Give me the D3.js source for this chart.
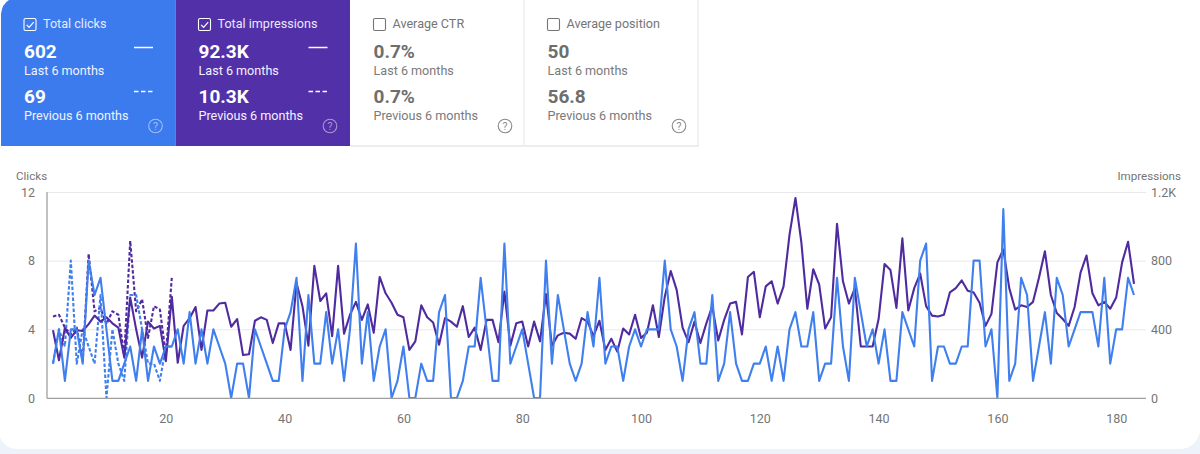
<!DOCTYPE html>
<html><head><meta charset="utf-8">
<script src="https://cdn.jsdelivr.net/npm/d3@7/dist/d3.min.js"></script>
<style>
html,body{margin:0;padding:0;background:#fff;overflow:hidden}
svg{display:block;font-family:Roboto,sans-serif}
</style></head><body><svg id="c" width="1200" height="454"></svg>
<script>
const clicks=[2,4,1,4,4,2,8,6,7,4,1,1,2,3,1,4,1,3,2,3,3,4,2,5,2,4,2,4,3,2,0,2,2,0,4,3,2,1,1,4,5,
7,1,6,2,2,5,2,4,1,4,9,2,5,1,3,4,0,1,3,0,0,2,1,1,5,6,0,0,1,3,3,7,4,1,1,9,2,3,4,2,0,0,8,2,6,4,2,1,2,
5,3,7,2,3,3,1,3,4,3,4,4,4,8,4,3,1,4,5,2,2,6,1,2,5,2,1,1,2,2,3,1,3,1,4,5,3,3,5,1,2,2,7,3,1,7,5,3,
4,2,4,1,1,5,4,3,8,9,1,3,3,2,2,3,3,8,8,3,4,0,11,1,2,7,6,1,3,5,2,7,6,3,4,5,5,5,3,7,2,4,4,7,6];
const impressions=[395,220,408,350,395,390,430,480,445,470,435,410,235,585,400,235,445,405,420,215,590,205,420,465,530,280,510,510,550,555,415,460,250,255,450,470,455,320,435,435,280,
670,535,305,770,565,610,360,770,375,485,560,455,545,380,705,610,555,485,470,280,330,540,470,440,310,465,445,415,535,355,410,280,455,455,325,620,305,435,445,300,445,330,605,305,365,380,375,345,465,
445,360,450,280,345,270,405,370,485,350,380,540,355,590,740,630,410,325,445,320,435,535,335,455,550,560,370,705,735,470,650,680,550,650,950,1165,905,520,750,660,405,470,1015,680,550,640,300,300,
300,460,780,745,525,930,510,640,725,535,480,475,485,615,640,685,625,615,555,420,490,790,865,640,515,540,530,560,700,855,600,495,460,420,530,730,830,610,540,560,520,585,790,910,665];
const prevClicks=[2,4,3,8,2,4,3,2,6,0,4,2,1,6,6,4,2,2,1,3,3];
const prevImpressions=[475,485,410,370,410,215,840,505,525,430,505,485,250,915,505,575,350,535,515,250,700];
const clickTicks=[0,4,8,12];
const impressionTicks=[0,400,800,1200];
const dayTicks=[20,40,60,80,100,120,140,160,180];
const cardTitles=["Total clicks","Total impressions","Average CTR","Average position"];
const lastValues=["602","92.3K","0.7%","50"];
const prevValues=["69","10.3K","0.7%","56.8"];
const cardSelected=[true,true,false,false];

const svg=d3.select("#c");
const BLUE="#3b7bee",PURPLE="#5230a8",LBLUE="#3f7fee",LPURPLE="#4f2ba0",GREY="#757575";
svg.append("rect").attr("width",1200).attr("height",454).attr("fill","#eef2fb");
svg.append("rect").attr("x",-2).attr("y",-30).attr("width",1202).attr("height",479).attr("rx",20).attr("fill","#fff");
svg.append("rect").attr("x",1190).attr("y",-2).attr("width",10).attr("height",400).attr("fill","#fff");

const cw=[174.5,174.5,174,174],cx=[1,175.5,350.5,524.5];
const fills=[BLUE,PURPLE,"#fff","#fff"];
cardTitles.forEach((t,i)=>{
  const g=svg.append("g").attr("transform",`translate(${cx[i]},0)`);
  const sel=cardSelected[i], fg=sel?"#fff":"#6e6e6e", fg2=sel?"#f2f2ff":"#7a7a7a";
  if(i==0) g.append("path").attr("d","M0,14 Q1,4 8,0 H174.5 V146 H0 Z").attr("fill",fills[i]);
  else if(sel) g.append("rect").attr("width",cw[i]).attr("height",146).attr("fill",fills[i]);
  else {
    g.append("path").attr("d",`M${cw[i]-0.5},0 V146`).attr("stroke","#e6e6e6").attr("fill","none");
    g.append("path").attr("d",`M0,146 H${cw[i]}`).attr("stroke","#e6e6e6").attr("stroke-width",1.5).attr("fill","none");
  }
  const bx=23;
  g.append("rect").attr("x",bx).attr("y",18.5).attr("width",12).attr("height",12).attr("rx",1.5)
    .attr("fill","none").attr("stroke",sel?"#fff":"#757575").attr("stroke-width",1.1);
  if(sel) g.append("path").attr("d",`M${bx+2.6},24.8 l2.5,2.5 l4.6,-5.2`).attr("fill","none").attr("stroke","#fff").attr("stroke-width",1.2);
  g.append("text").attr("x",42).attr("y",28).attr("font-size",12.6).attr("fill",sel?"#e8e8ff":"#757575").text(t);
  const lx=23;
  g.append("text").attr("x",lx).attr("y",58).attr("font-size",19).attr("font-weight",700).attr("fill",fg).text(lastValues[i]);
  g.append("text").attr("x",lx).attr("y",75).attr("font-size",12.6).attr("fill",fg2).text("Last 6 months");
  g.append("text").attr("x",lx).attr("y",103).attr("font-size",19).attr("font-weight",700).attr("fill",fg).text(prevValues[i]);
  g.append("text").attr("x",lx).attr("y",119.5).attr("font-size",12.6).attr("fill",fg2).text("Previous 6 months");
  if(sel){
    g.append("path").attr("d","M133,47.5 H152").attr("stroke","#fff").attr("stroke-width",1.5);
    g.append("path").attr("d","M133,91.5 H152").attr("stroke","#fff").attr("stroke-width",1.5).attr("stroke-dasharray","4.5 2.5");
  }
  const qc=sel?"rgba(255,255,255,.5)":"#8a8a8a";
  g.append("circle").attr("cx",154.5).attr("cy",126).attr("r",6.8).attr("fill","none").attr("stroke",qc).attr("stroke-width",1.1);
  g.append("text").attr("x",154.5).attr("y",130).attr("font-size",10.5).attr("text-anchor","middle").attr("fill",qc).text("?");
});

const x=d3.scaleLinear().domain([1,183]).range([53,1134]);
const yL=d3.scaleLinear().domain([0,12]).range([398,192]);
const yR=d3.scaleLinear().domain([0,1200]).range([398,192]);
const L=47,R=1146;

const gridG=svg.append("g");
gridG.selectAll("line").data(clickTicks.slice(1)).join("line")
  .attr("x1",L).attr("x2",R).attr("y1",d=>yL(d)+.5).attr("y2",d=>yL(d)+.5).attr("stroke","#e8e8e8");

const axL=svg.append("g").attr("transform",`translate(${L},0)`)
  .call(d3.axisLeft(yL).tickValues(clickTicks).tickSize(0).tickPadding(12));
const axR=svg.append("g").attr("transform",`translate(${R},0)`)
  .call(d3.axisRight(yR).tickValues(impressionTicks).tickSize(0).tickPadding(5)
    .tickFormat(d=>d>=1000?(d/1000)+"K":d));
const axB=svg.append("g").attr("transform",`translate(0,398)`)
  .call(d3.axisBottom(x).tickValues(dayTicks).tickSize(0).tickPadding(16));
[axL,axR,axB].forEach(a=>{a.select(".domain").remove();
  a.selectAll("text").attr("font-family","Roboto,sans-serif").attr("font-size",12.5).attr("fill",GREY);});

svg.append("line").attr("x1",L).attr("x2",L).attr("y1",192).attr("y2",398.5).attr("stroke","#adadad").attr("stroke-width",1.5);

const line=(xs,sc)=>d3.line().x((d,i)=>x(i+1)).y(d=>sc(d))(xs);
const draw=(data,sc,col,dash)=>svg.append("path").attr("d",line(data,sc)).attr("fill","none").attr("stroke",col)
  .attr("stroke-width",2.1).attr("stroke-linejoin","round").attr("stroke-dasharray",dash?"3.5 2":null);
draw(prevImpressions,yR,LPURPLE,true);
draw(prevClicks,yL,LBLUE,true);
draw(impressions,yR,LPURPLE,false);
draw(clicks,yL,LBLUE,false);
svg.append("line").attr("x1",L).attr("x2",R).attr("y1",398.3).attr("y2",398.3).attr("stroke","#9e9e9e").attr("stroke-width",1.2);

svg.append("text").attr("x",16).attr("y",180).attr("font-size",11.6).attr("fill",GREY).text("Clicks");
svg.append("text").attr("x",1181).attr("y",180).attr("text-anchor","end").attr("font-size",11.6).attr("fill",GREY).text("Impressions");
</script></body></html>
